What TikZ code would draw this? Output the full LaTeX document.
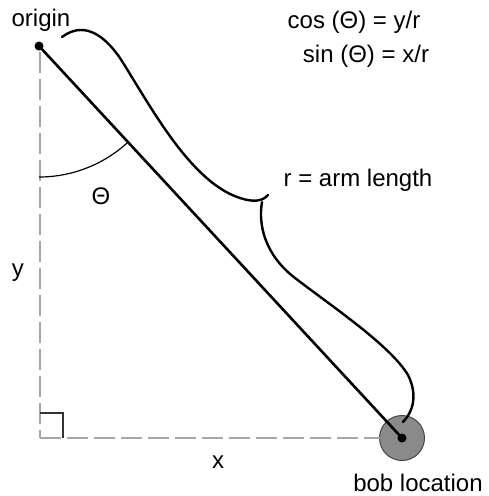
\documentclass[tikz,border=0pt]{standalone}
\usepackage{fontspec}
\setmainfont{Liberation Sans}
\begin{document}
\begin{tikzpicture}[x=1pt,y=-1pt,
  lbl/.style={font=\fontsize{24}{28}\selectfont, inner sep=0pt},
  guide/.style={draw=gray!70, line width=1.4pt, dash pattern=on 21pt off 6pt},
  armline/.style={line width=2.6pt, black},
  bracecurve/.style={line width=2.4pt, black, line cap=round},
  dotpt/.style={circle, fill=black, inner sep=0pt, minimum size=9pt}]
\useasboundingbox (0,0) rectangle (488,496);
% bob
\node[circle, minimum size=45pt, inner sep=0pt, fill={rgb,255:red,138;green,138;blue,138},
      draw={rgb,255:red,70;green,70;blue,70}, line width=1pt] (bob) at (402,438) {};
\coordinate (corner) at (40,438);
\coordinate (bobedge) at (380,438);
% guides
\draw[guide] (40,52) -- (corner);
\draw[guide] (corner) -- (bobedge);
\draw[line width=1.2pt, black!80] (40,413) -- (63,413) -- (63,438);
% arm
\node[dotpt] (origin) at (39,46) {};
\node[dotpt] (bobdot) at (402,438) {};
\draw[armline] (origin.center) -- (bobdot.center);
% angle arc
\draw[line width=1.2pt] (39,177) arc[start angle=90, end angle=47.2, radius=131];
% brace
\draw[bracecurve] (62,37) .. controls (82,22) and (102,32) .. (120,58)
   .. controls (150,105) and (190,182) .. (240,198)
   .. controls (252,202) and (262,202) .. (268,195);
\draw[bracecurve] (262,202) .. controls (258,225) and (265,255) .. (295,278)
   .. controls (330,305) and (390,345) .. (408,375)
   .. controls (418,395) and (413,412) .. (403,422);
% labels
\node[lbl, anchor=base] (lorigin) at (41,26) {origin};
\node[lbl, anchor=base] (lcos) at (354,28) {cos (Θ) = y/r};
\node[lbl, anchor=base] (lsin) at (366,62) {sin (Θ) = x/r};
\node[lbl, anchor=base] (lr) at (358,186) {r = arm length};
\node[lbl] (ltheta) at (101,196) {Θ};
\node[lbl] (ly) at (18,273) {y};
\node[lbl] (lx) at (218,462) {x};
\node[lbl, anchor=base] (lbob) at (418,491) {bob location};
\end{tikzpicture}
\end{document}
